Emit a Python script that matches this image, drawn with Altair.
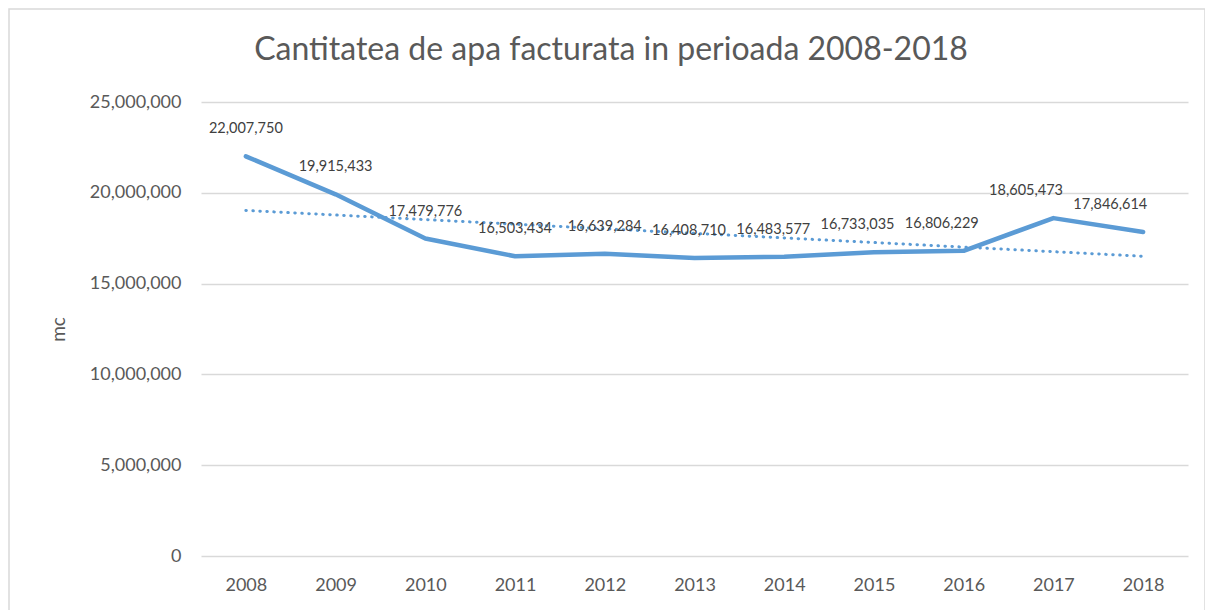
import altair as alt
import pandas as pd

years = [2008, 2009, 2010, 2011, 2012, 2013, 2014, 2015, 2016, 2017, 2018]
values = [22007750, 19915433, 17479776, 16503434, 16639284, 16408710,
          16483577, 16733035, 16806229, 18605473, 17846614]
y_ticks = [0, 5000000, 10000000, 15000000, 20000000, 25000000]
title_text = "Cantitatea de apa facturata in perioada 2008-2018"

df = pd.DataFrame({"year": years, "value": values})

FONT = "Lato"
GRAY = "#595959"
BLUE = "#5B9BD5"

x_scale = alt.Scale(domain=[2007.5, 2018.5], nice=False, zero=False)
y_scale = alt.Scale(domain=[0, 25000000], nice=False)

x_axis = alt.Axis(values=years, labelExpr="format(datum.value, 'd')",
                  grid=False, ticks=False,
                  domain=False, labelFontSize=18, labelColor=GRAY,
                  labelFont=FONT, labelPadding=20, title=None)
y_axis = alt.Axis(values=y_ticks, labelExpr="format(datum.value, ',')",
                  ticks=False, domain=False,
                  gridColor="#D9D9D9", gridWidth=1.5,
                  labelFontSize=18, labelColor=GRAY, labelFont=FONT,
                  labelPadding=20, title="mc", titleFont=FONT,
                  titleFontSize=19, titleFontWeight="normal",
                  titleColor=GRAY, titleX=-143, titleY=227,
                  titleAlign="center", titleBaseline="middle",
                  titleAngle=-90)

x_enc = alt.X("year:Q", scale=x_scale, axis=x_axis)
y_enc = alt.Y("value:Q", scale=y_scale, axis=y_axis)

base = alt.Chart(df)

border = base.mark_rect(fill=None, stroke="#D9D9D9", strokeWidth=1.5).encode(
    x=alt.value(-192), x2=alt.value(1004), y=alt.value(-93), y2=alt.value(540)
).transform_filter("datum.year == 2008")

title = base.mark_text(font=FONT, fontSize=32, color=GRAY, align="center",
                       baseline="alphabetic").encode(
    x=alt.value(410), y=alt.value(-42), text=alt.value(title_text)
).transform_filter("datum.year == 2008")

line = base.mark_line(color=BLUE, strokeWidth=4.5, strokeCap="round",
                      strokeJoin="round").encode(x=x_enc, y=y_enc)

trend = base.transform_regression("year", "value").mark_line(
    color=BLUE, strokeWidth=3, strokeDash=[0.5, 6.5], strokeCap="round"
).encode(x=x_enc, y=y_enc)

labels = base.transform_calculate(
    lx="datum.year > 2012 ? datum.year - (datum.year - 2012) * 0.061 : datum.year"
).mark_text(font=FONT, fontSize=14.5, color="#404040", baseline="middle",
            align="center", dy=-27).encode(
    x=alt.X("lx:Q", scale=x_scale, axis=x_axis),
    y=y_enc,
    text=alt.Text("value:Q", format=",")
)

chart = alt.layer(border, title, trend, line, labels).properties(
    width=987, height=454,
    autosize=alt.AutoSizeParams(type="none"),
    padding={"left": 193, "top": 94, "right": 17, "bottom": 60},
).configure_view(stroke=None)

chart.save("out.html", embed_options={"renderer": "svg", "actions": False})
